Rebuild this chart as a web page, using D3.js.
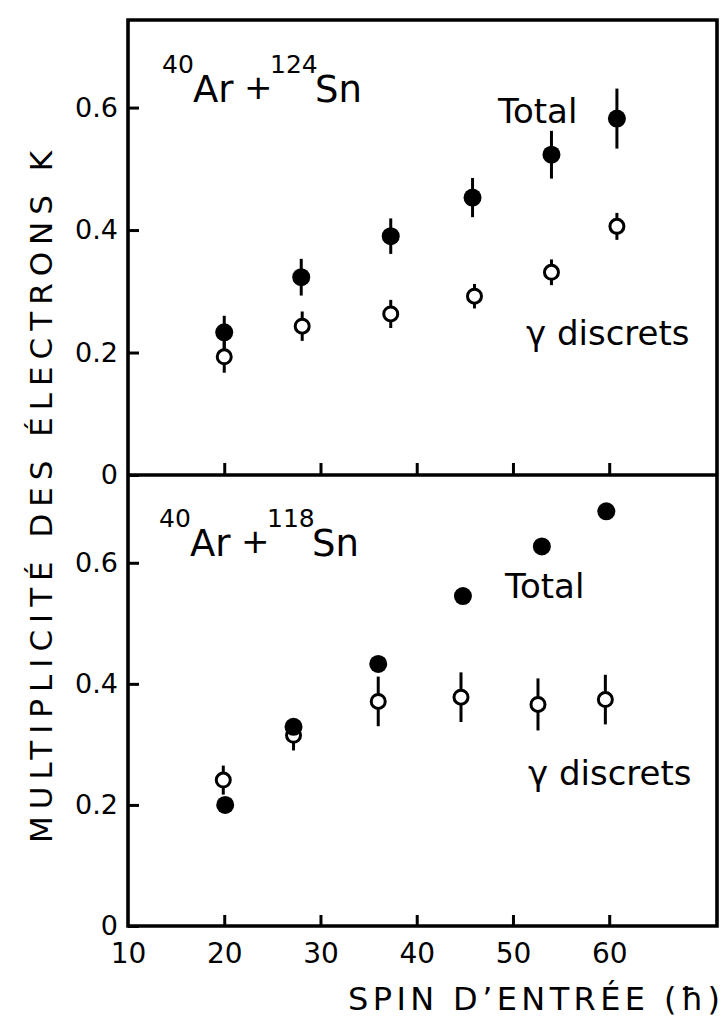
<!DOCTYPE html>
<html>
<head>
<meta charset="utf-8">
<script src="https://cdn.jsdelivr.net/npm/d3@7"></script>
<style>
  html, body { margin: 0; padding: 0; background: #fff; }
  svg { display: block; }
  text { font-family: "DejaVu Sans", sans-serif; fill: #000; }
</style>
</head>
<body>
<svg id="chart" width="726" height="1023"></svg>
<script>
// 40Ar + 124Sn : total and discrete-gamma electron multiplicity vs entrance spin
const spinTotal124 = [20.0, 28.0, 37.3, 45.8, 54.0, 60.8];
const total124     = [0.233, 0.323, 0.390, 0.453, 0.523, 0.582];
const totalErr124  = [0.027, 0.030, 0.029, 0.032, 0.039, 0.049];
const spinDisc124  = [20.0, 28.1, 37.3, 46.0, 54.0, 60.8];
const disc124      = [0.193, 0.243, 0.263, 0.292, 0.331, 0.406];
const discErr124   = [0.026, 0.024, 0.023, 0.020, 0.021, 0.022];

// 40Ar + 118Sn
const spinTotal118 = [20.1, 27.2, 36.0, 44.8, 53.0, 59.7];
const total118     = [0.200, 0.329, 0.433, 0.545, 0.627, 0.685];
const spinDisc118  = [19.9, 27.2, 36.0, 44.6, 52.6, 59.6];
const disc118      = [0.241, 0.315, 0.371, 0.378, 0.366, 0.374];
const discErr118   = [0.024, 0.025, 0.041, 0.041, 0.043, 0.041];

const xTicks = [10, 20, 30, 40, 50, 60];
const yTicks = [0, 0.2, 0.4, 0.6];

const svg = d3.select("#chart");

const frame = { left: 128, right: 717, top: 20, mid: 475, bottom: 926 };
const x = d3.scaleLinear().domain([10, 71.2]).range([frame.left, frame.right]);
const yTop = d3.scaleLinear().domain([0, 0.743]).range([frame.mid, frame.top]);
const yBot = d3.scaleLinear().domain([0, 0.745]).range([frame.bottom, frame.mid]);

const fmtY = d => d === 0 ? "0" : d3.format(".1f")(d);

function styleAxis(g, size) {
  g.attr("font-size", null).attr("font-family", null);
  g.select(".domain").remove();
  g.selectAll(".tick line").attr("stroke", "#000").attr("stroke-width", 3);
  g.selectAll(".tick text").attr("font-size", size).attr("fill", "#000");
}

// y axes (ticks pointing inward)
[yTop, yBot].forEach(y => {
  svg.append("g")
    .attr("transform", `translate(${frame.left},0)`)
    .call(d3.axisLeft(y).tickValues(yTicks).tickSizeInner(-11).tickSizeOuter(0)
      .tickPadding(10).tickFormat(fmtY))
    .call(g => styleAxis(g, 27));
});

// x axis on the bottom panel
svg.append("g")
  .attr("transform", `translate(0,${frame.bottom})`)
  .call(d3.axisBottom(x).tickValues(xTicks).tickSizeInner(-11).tickSizeOuter(0)
    .tickPadding(17).tickFormat(d3.format("d")))
  .call(g => styleAxis(g, 28))
  .call(g => g.selectAll(".tick").filter(d => d === 10).select("line").remove());

// inward ticks along the shared border
svg.append("g")
  .attr("transform", `translate(0,${frame.mid})`)
  .call(d3.axisBottom(x).tickValues(xTicks.slice(1)).tickSizeInner(-12).tickSizeOuter(0)
    .tickFormat(""))
  .call(g => styleAxis(g, 0));

// frames
svg.append("path")
  .attr("d", `M${frame.left},${frame.top}H${frame.right}V${frame.bottom}H${frame.left}Z M${frame.left},${frame.mid}H${frame.right}`)
  .attr("fill", "none").attr("stroke", "#000").attr("stroke-width", 3.6);

function drawSeries(xs, ys, errs, y, filled) {
  const pts = xs.map((s, i) => ({ s, v: ys[i], e: errs ? errs[i] : 0 }));
  const g = svg.append("g");
  if (errs) {
    g.selectAll("line").data(pts).join("line")
      .attr("x1", d => x(d.s)).attr("x2", d => x(d.s))
      .attr("y1", d => y(d.v - d.e)).attr("y2", d => y(d.v + d.e))
      .attr("stroke", "#000").attr("stroke-width", 3);
  }
  g.selectAll("circle").data(pts).join("circle")
    .attr("cx", d => x(d.s)).attr("cy", d => y(d.v))
    .attr("r", filled ? 9 : 7)
    .attr("fill", filled ? "#000" : "#fff")
    .attr("stroke", "#000").attr("stroke-width", filled ? 0 : 3);
}

drawSeries(spinDisc124, disc124, discErr124, yTop, false);
drawSeries(spinTotal124, total124, totalErr124, yTop, true);
drawSeries(spinDisc118, disc118, discErr118, yBot, false);
drawSeries(spinTotal118, total118, null, yBot, true);

// reaction labels with mass-number superscripts
function reaction(x0, base, a, b) {
  const t = svg.append("text");
  t.append("tspan").attr("x", x0).attr("y", base - 29).attr("font-size", 25).text(a);
  t.append("tspan").attr("x", x0 + 31).attr("y", base).attr("font-size", 37).text("Ar");
  t.append("tspan").attr("x", x0 + 82).attr("y", base - 3).attr("font-size", 34).text("+");
  t.append("tspan").attr("x", x0 + 108).attr("y", base - 29).attr("font-size", 25).text(b);
  t.append("tspan").attr("x", x0 + 153).attr("y", base).attr("font-size", 37).text("Sn");
}
reaction(162, 102, "40", "124");
reaction(159, 556, "40", "118");

function label(txt, x0, y0) {
  svg.append("text").attr("x", x0).attr("y", y0).attr("font-size", 34).text(txt);
}
label("Total", 498, 123);
label("\u03B3 discrets", 526, 345);
label("Total", 505, 598);
label("\u03B3 discrets", 528, 785);

// axis titles
svg.append("text")
  .attr("x", 720).attr("y", 1010).attr("text-anchor", "end")
  .attr("font-size", 32).attr("textLength", 372).attr("lengthAdjust", "spacing")
  .text("SPIN D\u2019ENTR\u00C9E (\u0127)");

svg.append("text")
  .attr("transform", "translate(52,497) rotate(-90)")
  .attr("text-anchor", "middle")
  .attr("font-size", 31).attr("textLength", 692).attr("lengthAdjust", "spacing")
  .text("MULTIPLICIT\u00C9 DES \u00C9LECTRONS  K");
</script>
</body>
</html>
